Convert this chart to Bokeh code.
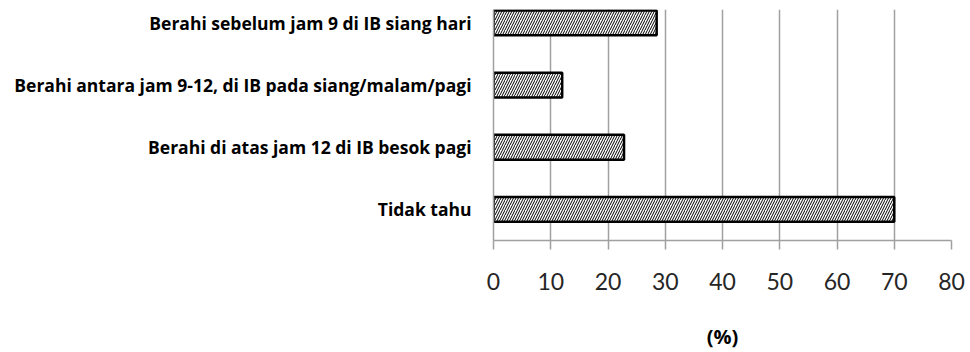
from bokeh.plotting import figure
from bokeh.models import Range1d, FixedTicker, ColumnDataSource
from bokeh.embed import file_html
from bokeh.resources import INLINE

categories = [
    "Berahi sebelum jam 9 di IB siang hari",
    "Berahi antara jam 9-12, di IB pada siang/malam/pagi",
    "Berahi di atas jam 12 di IB besok pagi",
    "Tidak tahu",
]
values = [28.5, 12.0, 22.8, 70.0]
x_ticks = [0, 10, 20, 30, 40, 50, 60, 70, 80]
x_label = "(%)"

n = len(categories)
positions = [n - 1 - i for i in range(n)]
src = ColumnDataSource(dict(y=positions, v=values, cat=categories))

p = figure(width=970, height=352, output_backend="svg", toolbar_location=None,
           x_range=Range1d(0, 80), y_range=Range1d(-0.5, 3.216),
           min_border_left=493, min_border_right=19, min_border_top=9,
           min_border_bottom=111)
p.outline_line_color = None
p.background_fill_color = "white"
p.border_fill_color = "white"

p.hbar(y="y", right="v", left=0, height=0.4, source=src,
       fill_color="white", line_color="black", line_width=2.5,
       hatch_pattern="right_diagonal_line", hatch_color="black",
       hatch_scale=5, hatch_weight=1)

# x axis
p.xaxis.ticker = FixedTicker(ticks=x_ticks)
p.xaxis.axis_line_color = "#a0a0a0"
p.xaxis.axis_line_width = 1.5
p.xaxis.major_tick_line_color = "#a0a0a0"
p.xaxis.major_tick_line_width = 1.5
p.xaxis.major_tick_out = 9
p.xaxis.major_tick_in = 0
p.xaxis.minor_tick_line_color = None
p.xaxis.major_label_text_font = "Lato"
p.xaxis.major_label_text_font_size = "23px"
p.xaxis.major_label_text_color = "#262626"
p.xaxis.major_label_standoff = 23
p.xaxis.axis_label = x_label
p.xaxis.axis_label_text_font = "Open Sans"
p.xaxis.axis_label_text_font_size = "20px"
p.xaxis.axis_label_text_font_style = "bold"
p.xaxis.axis_label_text_color = "black"
p.xaxis.axis_label_standoff = 30

p.xgrid.grid_line_color = "#a0a0a0"
p.xgrid.grid_line_width = 1.5
p.ygrid.grid_line_color = None

# y axis
p.yaxis.ticker = FixedTicker(ticks=positions)
p.yaxis.major_label_overrides = {pos: cat for pos, cat in zip(positions, categories)}
p.yaxis.axis_line_color = "#a0a0a0"
p.yaxis.axis_line_width = 1.5
p.yaxis.major_tick_line_color = None
p.yaxis.minor_tick_line_color = None
p.yaxis.major_tick_out = 0
p.yaxis.major_tick_in = 0
p.yaxis.major_label_standoff = 22
p.yaxis.major_label_text_font = "Open Sans"
p.yaxis.major_label_text_font_size = "17.5px"
p.yaxis.major_label_text_font_style = "bold"
p.yaxis.major_label_text_color = "black"

open("out.html", "w").write(file_html(p, INLINE))
